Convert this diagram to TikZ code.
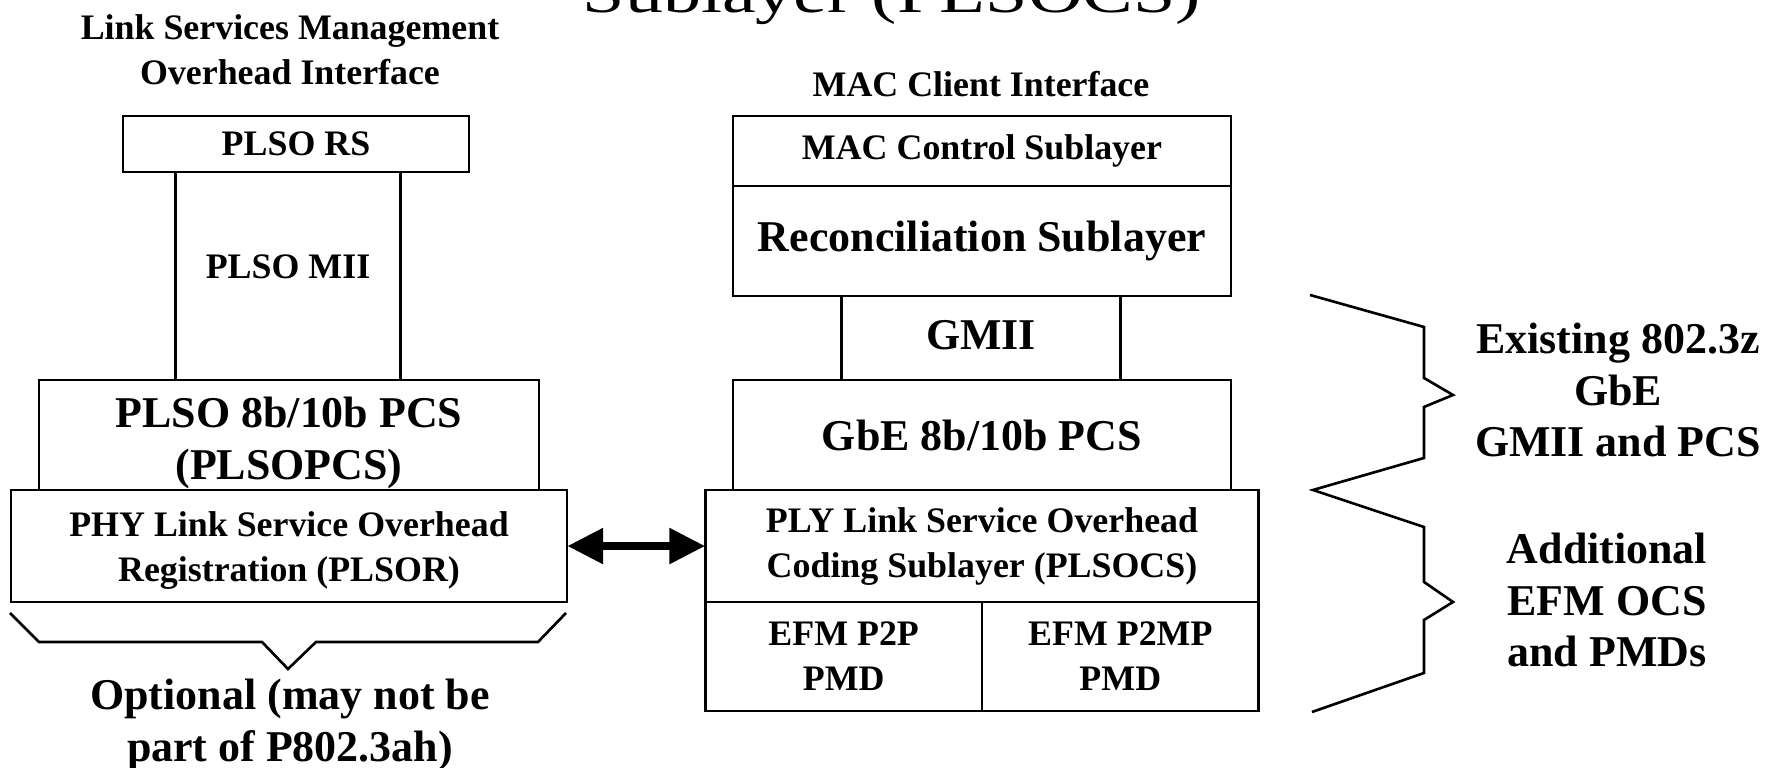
\documentclass[tikz,border=0pt]{standalone}
\usepackage{fontspec}
\setmainfont{Liberation Serif}
\usepackage{tikz}
\usetikzlibrary{positioning}
\usetikzlibrary{arrows.meta}
\newcommand{\smallbf}{\fontsize{10.2}{12.8}\selectfont\bfseries}
\newcommand{\largebf}{\fontsize{12.5}{14.7}\selectfont\bfseries}
\tikzstyle{layer} = [draw, line width=0.75pt, rectangle, align=center, inner sep=0pt, outer sep=0pt]
\tikzstyle{bigarrow} = [line width=2.4pt, {Triangle[length=0.36cm,width=0.34cm]}-{Triangle[length=0.36cm,width=0.34cm]}]

\begin{document}
\begin{tikzpicture}[x=0.01cm, y=-0.01cm, line width=0.75pt]
  \useasboundingbox (0,0) rectangle (1765,768);

  % Title, cut off at the top
  \node[font=\fontsize{16}{18}\selectfont, anchor=base] (title) at (892,13) {\scalebox{1.35}[1]{Sublayer (PLSOCS)}};

  % Left stack
  \node[align=center, font=\smallbf] (lsmoi) at (290,50) {Link Services Management\\Overhead Interface};
  \node[layer, font=\smallbf, minimum width=3.46cm, minimum height=0.56cm] (plsors) at (296,144) {PLSO RS};
  \node[font=\smallbf, minimum width=2.22cm, inner sep=0pt] (mii) at (288,267) {PLSO MII};
  \node[layer, font=\largebf, minimum width=5cm, minimum height=1.1cm] (plsopcs) at (289,435) {\rule{0pt}{13pt}PLSO 8b/10b PCS\\(PLSOPCS)};
  \node[layer, font=\smallbf, minimum width=5.56cm, minimum height=1.12cm, below=0cm of plsopcs] (plsor) {\rule{0pt}{9.8pt}PHY Link Service Overhead\\Registration (PLSOR)};
  \draw (mii.west |- plsors.south) -- (mii.west |- plsopcs.north);
  \draw (mii.east |- plsors.south) -- (mii.east |- plsopcs.north);

  % Brace under the optional part
  \draw (10,613) -- (39,642) -- (262,642) -- (288,669) -- (316,642) -- (538,642) -- (566,613);
  \node[align=center, font=\largebf] (optional) at (290,725) {Optional (may not be\\part of P802.3ah)};

  % Right stack
  \node[align=center, font=\smallbf] (mci) at (981,84) {MAC Client Interface};
  \node[layer, font=\smallbf, minimum width=4.98cm, minimum height=0.7cm] (macctl) at (982,151) {MAC Control Sublayer};
  \node[layer, font=\largebf, minimum width=4.98cm, minimum height=1.1cm, below=0cm of macctl] (recon) {Reconciliation Sublayer};
  \node[font=\largebf, minimum width=2.76cm, inner sep=0pt] (gmii) at (981,335) {GMII};
  \node[layer, font=\largebf, minimum width=4.98cm, minimum height=1.1cm] (gbepcs) at (982,435) {GbE 8b/10b PCS};
  \node[layer, font=\smallbf, minimum width=5.53cm, minimum height=1.12cm, below=0cm of gbepcs] (plsocs) {PLY Link Service Overhead\\Coding Sublayer (PLSOCS)};
  \node[layer, font=\smallbf, minimum width=2.765cm, minimum height=1.09cm, below right=0cm of plsocs.south west] (p2p) {EFM P2P\\PMD};
  \node[layer, font=\smallbf, minimum width=2.765cm, minimum height=1.09cm, below left=0cm of plsocs.south east] (p2mp) {EFM P2MP\\PMD};
  \draw (gmii.west |- recon.south) -- (gmii.west |- gbepcs.north);
  \draw (gmii.east |- recon.south) -- (gmii.east |- gbepcs.north);

  % Link between PLSOR and PLSOCS
  \draw[bigarrow] (plsor.east) -- (plsocs.west);

  % Braces on the right
  \draw (1310,295) -- (1424,327) -- (1424,378) -- (1453,395) -- (1424,407) -- (1424,458) -- (1313,490)
    -- (1424,527) -- (1424,582) -- (1453,602) -- (1424,620) -- (1424,673) -- (1312,712);
  \node[align=center, font=\largebf] (existing) at (1618,390) {Existing 802.3z\\GbE\\GMII and PCS};
  \node[align=center, font=\largebf] (additional) at (1607,600) {Additional\\EFM OCS\\and PMDs};
\end{tikzpicture}
\end{document}
